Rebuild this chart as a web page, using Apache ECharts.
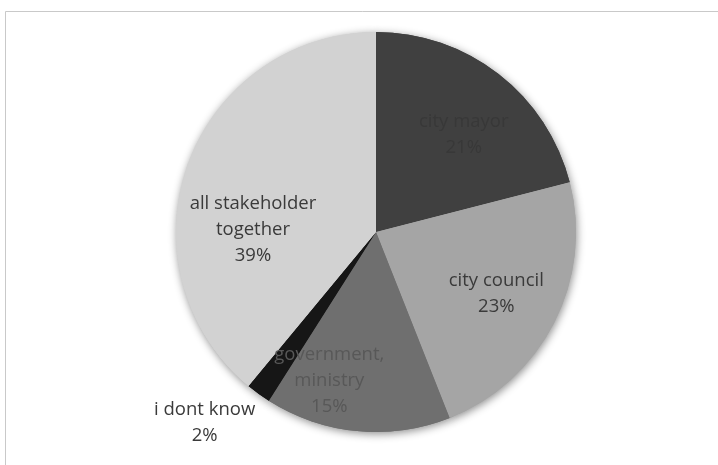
<!DOCTYPE html>
<html>
<head>
<meta charset="utf-8">
<script src="https://cdn.jsdelivr.net/npm/echarts@6/dist/echarts.min.js"></script>
<style>
  html, body { margin: 0; padding: 0; background: #fff; }
  #chart { width: 718px; height: 465px; }
</style>
</head>
<body>
<div id="chart"></div>
<script>
// Who should lead: share of answers per stakeholder
const categories = ['city mayor', 'city council', 'government, ministry', 'i dont know', 'all stakeholder together'];
const shares = [21, 23, 15, 2, 39];

// Slice fills and label colours (same order as categories)
const sliceColors = ['#404040', '#a5a5a5', '#6f6f6f', '#161616', '#d2d2d2'];
const labelColors = ['#383838', '#3a3a3a', '#585858', '#3a3a3a', '#3a3a3a'];

const center = ['376px', '232px'];
const radius = 200;

function wrapName(name) {
  return name.replace(', ', ',\n').replace(' together', '\ntogether');
}

const sliceData = categories.map((c, i) => ({
  name: c,
  value: shares[i],
  itemStyle: { color: sliceColors[i] }
}));

const labelData = categories.map((c, i) => ({
  name: c,
  value: shares[i],
  label: { color: labelColors[i] }
}));

// Nudges for labels that sit away from the slice middle
const labelShift = {
  'city mayor': [5, 9],
  'government, ministry': [-34, 14],
  'i dont know': [-92, 82],
  'all stakeholder together': [4, 43]
};

const chart = echarts.init(document.getElementById('chart'), null, { renderer: 'canvas' });
chart.setOption({
  animation: false,
  backgroundColor: '#ffffff',
  graphic: [{
    type: 'rect',
    shape: { x: 5.5, y: 11.5, width: 900, height: 700 },
    style: { fill: 'none', stroke: '#c9c9c9', lineWidth: 1 },
    silent: true,
    z: 0
  }],
  series: [
    {
      // soft drop shadow under the pie
      type: 'pie',
      center: center,
      radius: radius,
      silent: true,
      z: 1,
      label: { show: false },
      labelLine: { show: false },
      itemStyle: {
        shadowBlur: 9,
        shadowColor: 'rgba(0,0,0,0.45)',
        shadowOffsetX: 1,
        shadowOffsetY: 2
      },
      data: sliceData
    },
    {
      type: 'pie',
      center: center,
      radius: radius,
      silent: true,
      z: 2,
      label: { show: false },
      labelLine: { show: false },
      data: sliceData
    },
    {
      // transparent carrier for the slice labels
      type: 'pie',
      center: center,
      radius: 264,
      silent: true,
      z: 3,
      itemStyle: { color: 'rgba(0,0,0,0)' },
      labelLine: { show: false },
      label: {
        show: true,
        position: 'inside',
        fontFamily: 'Open Sans',
        fontSize: 18.5,
        lineHeight: 26,
        align: 'center',
        formatter: p => wrapName(p.name) + '\n' + p.percent.toFixed(0) + '%'
      },
      labelLayout: function (params) {
        const name = categories[params.dataIndex];
        const s = labelShift[name];
        if (!s) return {};
        return { dx: s[0], dy: s[1] };
      },
      data: labelData
    }
  ]
});
</script>
</body>
</html>
